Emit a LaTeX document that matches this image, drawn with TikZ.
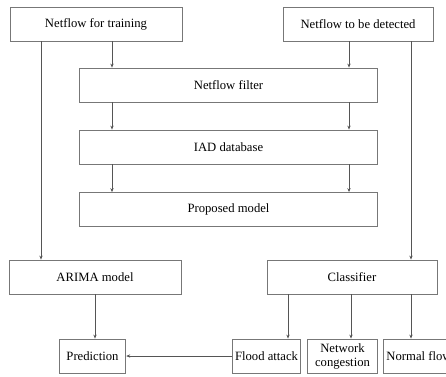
\documentclass[tikz,border=0pt]{standalone}
\usepackage{fontspec}
\setmainfont{Liberation Serif}
\usetikzlibrary{positioning,arrows.meta,calc}
\definecolor{linegray}{HTML}{555555}
\definecolor{boxgray}{HTML}{777777}

\begin{document}
\begin{tikzpicture}[x=0.75pt, y=-0.75pt,
    block/.style={draw=boxgray, semithick, fill=white, inner sep=1pt,
      font=\fontsize{9.5}{10.5}\selectfont, align=center},
    arr/.style={draw=linegray, semithick, -{Stealth[length=3pt, width=2.5pt]}}]
      % Frame
      \useasboundingbox (0,0) rectangle (446,376);
      \clip (0,0) rectangle (446,376);

      % Input boxes
      \node[block, minimum width=129pt, minimum height=25.5pt] (trainflow)
        at (96,24) {Netflow for training};
      \node[block, minimum width=112.5pt, minimum height=25.5pt] (detectflow)
        at (358,24) {Netflow to be detected};

      % Middle stack
      \node[block, minimum width=224pt, minimum height=25.5pt] (filter)
        at (228.5,85) {Netflow filter};
      \node[block, minimum width=224pt, minimum height=25.5pt] (iaddb)
        at (228.5,147) {IAD database};
      \node[block, minimum width=224pt, minimum height=25.5pt] (proposed)
        at (228.5,209.5) {Proposed model};

      % Models
      \node[block, minimum width=129pt, minimum height=25.5pt] (arima)
        at (95,277) {ARIMA model};
      \node[block, minimum width=127.5pt, minimum height=25.5pt] (classifier)
        at (352,277) {Classifier};

      % Outputs
      \node[block, minimum width=50pt, minimum height=25.5pt] (prediction)
        at (92.5,356) {Prediction};
      \node[block, minimum width=51.5pt, minimum height=25.5pt] (flood)
        at (266.5,356) {Flood attack};
      \node[block, minimum width=53pt, minimum height=25.5pt] (congestion)
        at (342.5,356) {Network\\congestion};
      \node[block, minimum width=53pt, minimum height=25.5pt] (normal)
        at (419,356) {Normal flow};

      % Column positions
      \coordinate (lout) at (41,0);
      \coordinate (lin) at (112,0);
      \coordinate (rin) at (349,0);
      \coordinate (rout) at (411,0);
      \coordinate (cmid) at (288,0);
      \coordinate (cnet) at (351,0);

      % Connectors
      \draw[arr] (trainflow.south -| lin) -- (filter.north -| lin);
      \draw[arr] (detectflow.south -| rin) -- (filter.north -| rin);
      \draw[arr] (filter.south -| lin) -- (iaddb.north -| lin);
      \draw[arr] (filter.south -| rin) -- (iaddb.north -| rin);
      \draw[arr] (iaddb.south -| lin) -- (proposed.north -| lin);
      \draw[arr] (iaddb.south -| rin) -- (proposed.north -| rin);
      \draw[arr] (trainflow.south -| lout) -- (arima.north -| lout);
      \draw[arr] (detectflow.south -| rout) -- (classifier.north -| rout);
      \draw[arr] (arima.south) -- (prediction.north -| arima.south);
      \draw[arr] (classifier.south -| cmid) -- (flood.north -| cmid);
      \draw[arr] (classifier.south -| cnet) -- (congestion.north -| cnet);
      \draw[arr] (classifier.south -| rout) -- (normal.north -| rout);
      \draw[arr] (flood.west) -- (prediction.east);
    \end{tikzpicture}
\end{document}
